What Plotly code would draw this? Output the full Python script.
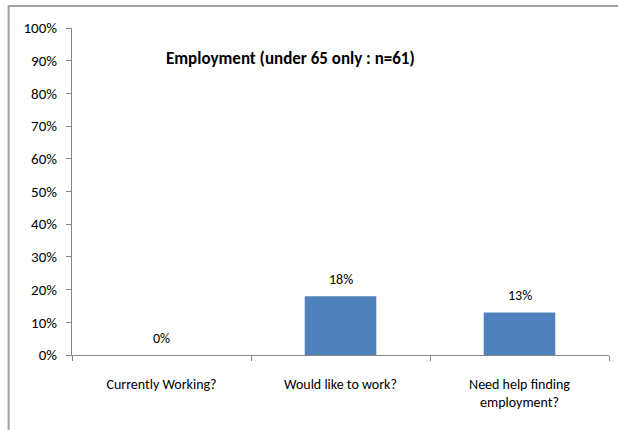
import plotly.graph_objects as go

categories = ["Currently Working?", "Would like to work?", "Need help finding<br>employment?"]
values = [0.0, 0.18, 0.13]
value_labels = ["0%", "18%", "13%"]
title_text = "Employment (under 65 only : n=61)"

FONT = "Carlito, Calibri, 'Liberation Sans Narrow', 'Open Sans', sans-serif"
AXIS = "#868686"

fig = go.Figure(
    go.Bar(
        x=categories,
        y=values,
        marker=dict(color="#4F81BD", line=dict(width=0)),
        width=0.4,
        hoverinfo="skip",
    )
)

# value labels above each bar
for cat, v, lab in zip(categories, values, value_labels):
    fig.add_annotation(
        x=cat, y=v, text=lab, showarrow=False, yshift=17,
        font=dict(family=FONT, size=14, color="#000000"),
    )

fig.add_annotation(
    x=0.406, xref="paper", y=0.908, yref="paper", yanchor="middle",
    text="<b>" + title_text + "</b>",
    showarrow=False, font=dict(family=FONT, size=17, color="#000000"),
)

# chart frame
fig.add_shape(
    type="rect", xref="paper", yref="paper",
    x0=-0.118, x1=1.05, y0=-0.3, y1=1.067,
    line=dict(color="#A0A0A0", width=2), fillcolor="rgba(0,0,0,0)", layer="below",
)

fig.update_layout(
    width=618, height=430,
    margin=dict(l=72, r=9, t=28, b=75),
    paper_bgcolor="white", plot_bgcolor="white",
    showlegend=False,
    font=dict(family=FONT, size=14, color="#000000"),
    xaxis=dict(
        showline=True, linecolor=AXIS, linewidth=1,
        ticks="outside", tickson="boundaries", ticklen=5, tickcolor=AXIS,
        ticklabelstandoff=16, showgrid=False,
        tickfont=dict(family=FONT, size=14),
    ),
    yaxis=dict(
        range=[0, 1], dtick=0.1, tickformat=".0%",
        showline=True, linecolor=AXIS, linewidth=1,
        ticks="outside", ticklen=5, tickcolor=AXIS,
        ticklabelstandoff=6, showgrid=False, zeroline=False,
        tickfont=dict(family=FONT, size=15),
    ),
)

fig.write_html("out.html")
